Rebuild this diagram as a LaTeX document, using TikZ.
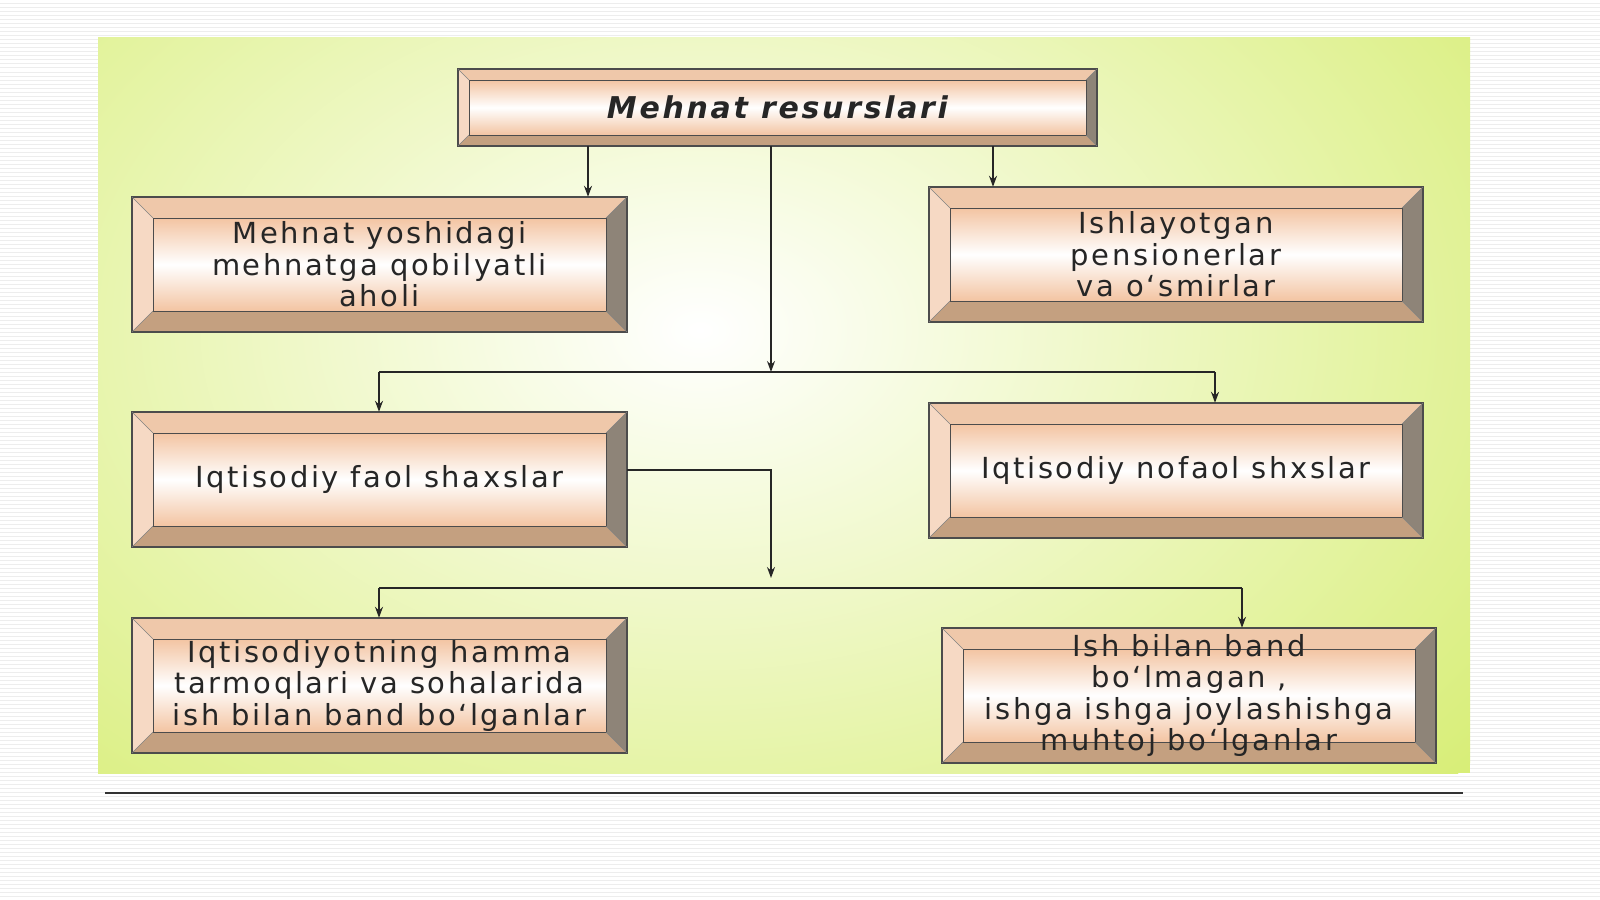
\documentclass[tikz,border=0pt]{standalone}
\usepackage{fontspec}
\setmainfont{DejaVu Sans}[LetterSpace=9,Ligatures=ResetAll]
\usetikzlibrary{arrows.meta}
\definecolor{peach}{HTML}{F3C4A2}
\definecolor{bevL}{HTML}{F6D9C4}
\definecolor{bevT}{HTML}{EFC8AA}
\definecolor{bevR}{HTML}{8E8478}
\definecolor{bevB}{HTML}{C4A080}
\definecolor{panel}{HTML}{D8EE78}
\tikzset{
 conn/.style={draw=black!85,line width=1.3pt},
 arr/.style={conn,-{Stealth[length=11pt,width=8pt]}},
 txt/.style={font=\fontsize{29}{31.5}\selectfont,align=center,text=black!85},
}
\newcommand{\bq}{\char"0060{}}
\newcommand{\bevbox}[7]{%
 \fill[bevT] (#2,#3) -- (#4,#3) -- ({#4-#6},{#3+#6}) -- ({#2+#6},{#3+#6}) -- cycle;
 \fill[bevL] (#2,#3) -- ({#2+#6},{#3+#6}) -- ({#2+#6},{#5-#6}) -- (#2,#5) -- cycle;
 \fill[bevR] (#4,#3) -- (#4,#5) -- ({#4-#6},{#5-#6}) -- ({#4-#6},{#3+#6}) -- cycle;
 \fill[bevB] (#2,#5) -- (#4,#5) -- ({#4-#6},{#5-#6}) -- ({#2+#6},{#5-#6}) -- cycle;
 \shade[top color=peach,bottom color=peach,middle color=white] ({#2+#6},{#3+#6}) rectangle ({#4-#6},{#5-#6});
 \draw[black!70,line width=1.3pt] (#2,#3) rectangle (#4,#5);
 \draw[black!70,line width=1pt] ({#2+#6},{#3+#6}) rectangle ({#4-#6},{#5-#6});
 \draw[black!50,line width=0.6pt] (#2,#3) -- ({#2+#6},{#3+#6}) (#4,#3) -- ({#4-#6},{#3+#6}) (#2,#5) -- ({#2+#6},{#5-#6}) (#4,#5) -- ({#4-#6},{#5-#6});
 \node[txt,minimum width={(#4-#2)*1pt},minimum height={(#5-#3)*1pt},inner sep=0pt] (#1) at ({(#2+#4)/2},{(#3+#5)/2}) {#7};
}
\begin{document}
\begin{tikzpicture}[x=1pt,y=-1pt]
\useasboundingbox (0,0) rectangle (1600,899);
\fill[white] (0,0) rectangle (1600,899);
\foreach \i in {0,4,...,896} \draw[black!7,line width=1pt] (0,\i) -- (1600,\i);
\fill[panel] (98,38) rectangle (1470,773);
\begin{scope}
\clip (98,38) rectangle (1470,773);
\shade[inner color=white,outer color=panel] (700,330) ellipse (1000 and 680);
\end{scope}
\draw[black!80,line width=1.2pt] (105,793) -- (1463,793);

\bevbox{top}{458}{69}{1097}{146}{11}{\fontsize{30}{32}\selectfont\bfseries\itshape Mehnat resurslari}
\bevbox{b1}{132}{197}{627}{332}{21}{Mehnat yoshidagi\\mehnatga qobilyatli\\aholi}
\bevbox{b2}{929}{187}{1423}{322}{21}{Ishlayotgan\\pensionerlar\\va o\bq smirlar}
\bevbox{b3}{132}{412}{627}{547}{21}{Iqtisodiy faol shaxslar}
\bevbox{b4}{929}{403}{1423}{538}{21}{Iqtisodiy nofaol shxslar}
\bevbox{b5}{132}{618}{627}{753}{21}{Iqtisodiyotning hamma\\tarmoqlari va sohalarida\\ish bilan band bo\bq lganlar}
\bevbox{b6}{942}{628}{1436}{763}{21}{Ish bilan band\\bo\bq lmagan ,\\ishga ishga joylashishga\\muhtoj bo\bq lganlar}

\coordinate (j1) at (771,372);
\coordinate (j2) at (771,578);
\draw[arr] (top.south -| 588,0) -- (b1.north -| 588,0);
\draw[arr] (top.south -| 993,0) -- (b2.north -| 993,0);
\draw[arr] (top.south -| j1) -- (j1);
\draw[conn] (379,372) -- (1215,372);
\draw[arr] (379,372) -- (b3.north -| 379,0);
\draw[arr] (1215,372) -- (b4.north -| 1215,0);
\draw[arr] (b3.east |- 0,470) -- (771,470) -- (j2);
\draw[conn] (379,588) -- (1242,588);
\draw[arr] (379,588) -- (b5.north -| 379,0);
\draw[arr] (1242,588) -- (b6.north -| 1242,0);
\end{tikzpicture}
\end{document}
